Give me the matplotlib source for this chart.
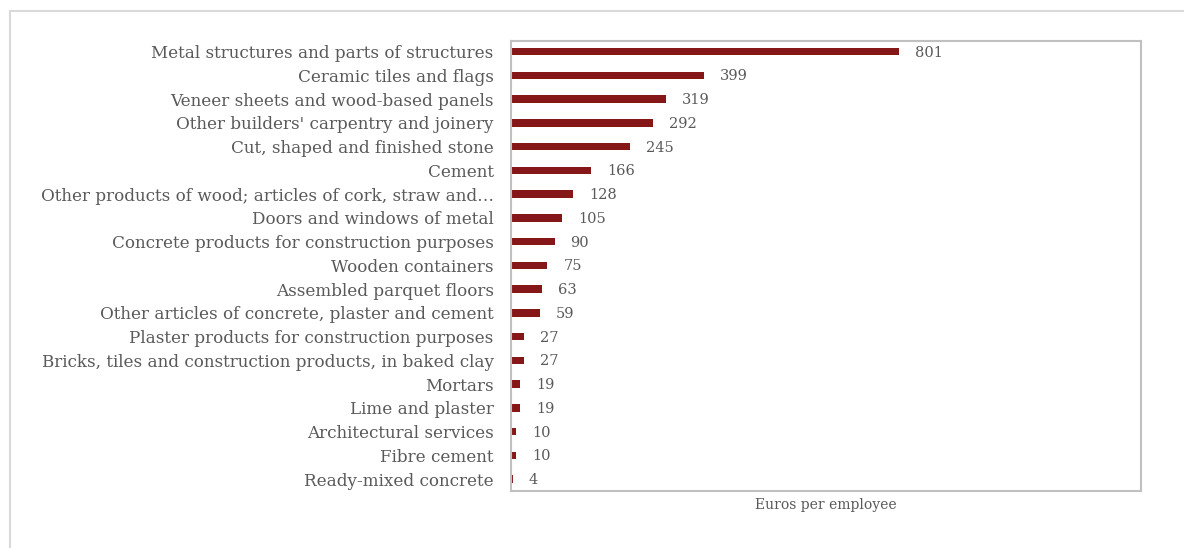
import matplotlib.pyplot as plt
from matplotlib.patches import Rectangle

# Euros per employee by product group (largest first)
categories = [
    "Metal structures and parts of structures",
    "Ceramic tiles and flags",
    "Veneer sheets and wood-based panels",
    "Other builders' carpentry and joinery",
    "Cut, shaped and finished stone",
    "Cement",
    "Other products of wood; articles of cork, straw and\u2026",
    "Doors and windows of metal",
    "Concrete products for construction purposes",
    "Wooden containers",
    "Assembled parquet floors",
    "Other articles of concrete, plaster and cement",
    "Plaster products for construction purposes",
    "Bricks, tiles and construction products, in baked clay",
    "Mortars",
    "Lime and plaster",
    "Architectural services",
    "Fibre cement",
    "Ready-mixed concrete",
]
values = [801, 399, 319, 292, 245, 166, 128, 105, 90, 75, 63, 59, 27, 27, 19, 19, 10, 10, 4]

BAR = "#861719"
TEXT = "#595959"
GRID = "#c0c0c0"

plt.rcParams["font.family"] = ["DejaVu Serif"]

fig = plt.figure(figsize=(11.84, 5.48), dpi=100)

# light frame around the chart area
fig.patches.append(Rectangle((10 / 1184, -0.1), 1.2, 1 - 11 / 548 + 0.1,
                             transform=fig.transFigure, fill=False,
                             edgecolor="#d9d9d9", linewidth=1.5))

ax = fig.add_axes([511 / 1184, 1 - 491 / 548, 630 / 1184, 450 / 548])

y = list(range(len(categories)))
ax.barh(y, values, height=0.32, color=BAR)

ax.set_xlim(0, 1300)
ax.set_ylim(len(categories) - 0.5, -0.45)
ax.set_yticks(y)
ax.set_yticklabels(categories, fontsize=12.1, color=TEXT)
ax.tick_params(axis="y", length=0, pad=12.5)
ax.set_xticks([])

for i, v in enumerate(values):
    ax.annotate(str(v), (v, i), xytext=(16, -1), textcoords="offset pixels",
                ha="left", va="center", fontsize=10.5, color=TEXT)

ax.set_xlabel("Euros per employee", fontsize=10, color=TEXT, labelpad=5)

for s in ax.spines.values():
    s.set_color(GRID)
    s.set_linewidth(1.5)

fig.savefig("out.png", dpi=100)
